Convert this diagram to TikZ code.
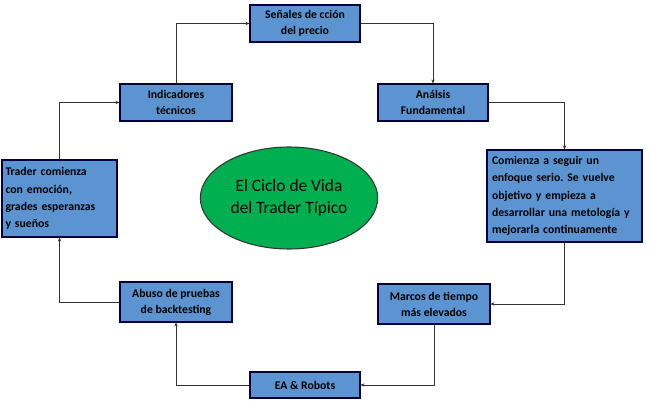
\documentclass[tikz,border=0pt]{standalone}
\usepackage{fontspec}
\setmainfont{Carlito}
\usetikzlibrary{arrows.meta,shapes.geometric}
\begin{document}
\frenchspacing
\begin{tikzpicture}[x=0.75pt,y=-0.75pt,
  bx/.style={draw=black!75!blue,line width=0.8pt,fill={rgb,255:red,91;green,148;blue,208},font=\bfseries\fontsize{8.8}{12}\selectfont,align=center,inner sep=1pt},
  lbx/.style={bx,align=left,font=\bfseries\fontsize{8.8}{13}\selectfont},
  cn/.style={draw=black!80,line width=0.5pt,-{Stealth[length=3pt,width=2.5pt]}}]
\useasboundingbox (0,0) rectangle (650,403);
\fill[white] (0,0) rectangle (650,403);
\node[bx,minimum width=110*0.75pt,minimum height=37*0.75pt] (sen) at (305,23.5) {Señales de cción\\del precio};
\node[bx,minimum width=110*0.75pt,minimum height=37*0.75pt] (ana) at (433,102.5) {Análsis\\Fundamental};
\node[lbx,minimum width=155*0.75pt,minimum height=92*0.75pt,text width=145*0.75pt] (com) at (564.5,196) {Comienza a seguir un\\enfoque serio. Se vuelve\\objetivo y empieza a\\desarrollar una metología y\\mejorarla continuamente};
\node[bx,minimum width=112*0.75pt,minimum height=40*0.75pt] (mar) at (434,304) {Marcos de tiempo\\más elevados};
\node[bx,minimum width=110*0.75pt,minimum height=26*0.75pt] (ea) at (305,385) {EA \& Robots};
\node[bx,minimum width=112*0.75pt,minimum height=40*0.75pt] (abu) at (176,302) {Abuso de pruebas\\de backtesting};
\node[lbx,minimum width=115*0.75pt,minimum height=77*0.75pt,text width=108*0.75pt] (tra) at (59.5,198.5) {Trader comienza\\con emoción,\\grades esperanzas\\y sueños};
\node[bx,minimum width=112*0.75pt,minimum height=37*0.75pt] (ind) at (176,102.5) {Indicadores\\técnicos};
\node[ellipse,draw=black!80,line width=0.8pt,fill={rgb,255:red,0;green,176;blue,80},minimum width=164*0.75pt,minimum height=102*0.75pt,align=center,font=\fontsize{13}{17}\selectfont] (ell) at (289,198) {El Ciclo de Vida\\del Trader Típico};
\draw[cn] (ind.north) |- (sen.west);
\draw[cn] (sen.east) -| (ana.north);
\draw[cn] (ana.east) -| (com.north);
\draw[cn] (com.south) |- (mar.east);
\draw[cn] (mar.south) |- (ea.east);
\draw[cn] (ea.west) -| (abu.south);
\draw[cn] (abu.west) -| (tra.south);
\draw[cn] (tra.north) |- (ind.west);
\end{tikzpicture}
\end{document}
